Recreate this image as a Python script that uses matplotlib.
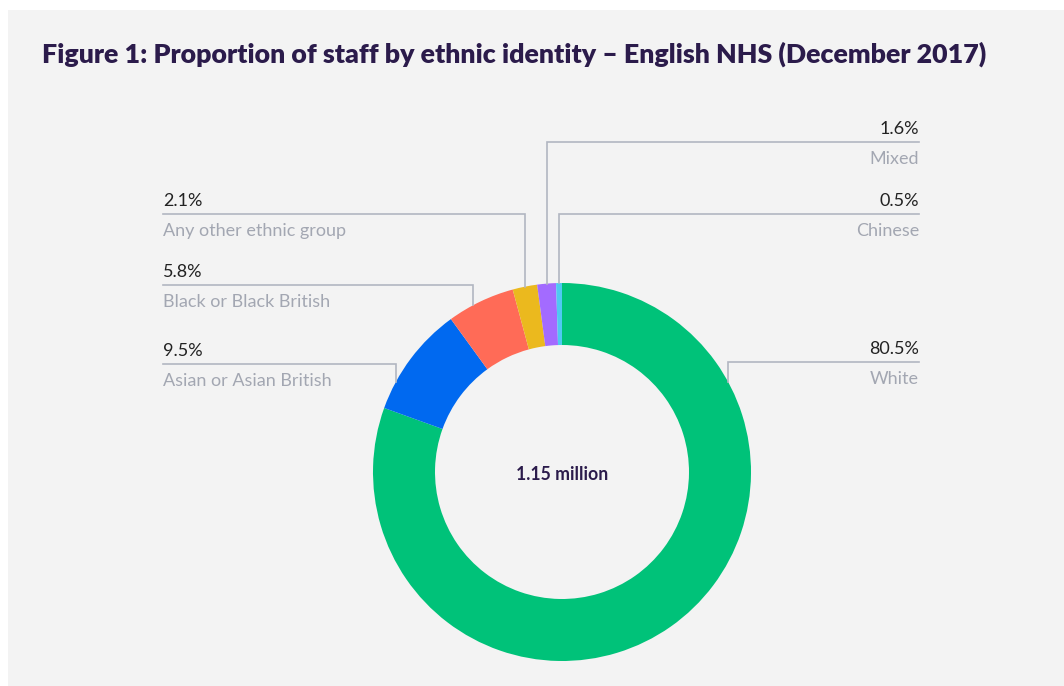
# Donut chart: NHS staff by ethnic identity
import matplotlib.pyplot as plt
from matplotlib.patches import Rectangle
import numpy as np


# data
categories = ["White", "Asian or Asian British", "Black or Black British",
              "Any other ethnic group", "Mixed", "Chinese"]
shares = [80.5, 9.5, 5.8, 2.1, 1.6, 0.5]
pct_labels = ["80.5%", "9.5%", "5.8%", "2.1%", "1.6%", "0.5%"]
total_label = "1.15 million"
title = "Figure 1: Proportion of staff by ethnic identity \u2013 English NHS (December 2017)"


# style
colors = ["#00c279", "#0069f0", "#ff6b57", "#ebb91e", "#a36bff", "#4fc9f2"]
label_side = ["right", "left", "left", "left", "right", "right"]
label_line_y = [362, 364, 285, 214, 142, 214]   # pixel rows of the leader lines
anchor_frac = [0.212, 0.255, 0.378, 0.5, 0.5, 0.5]  # where the leader hits each wedge
W, H = 1064, 686
cx, cy, R = 562, 472, 189
ring = 62
x_left, x_right = 163, 919
bg = "#f3f3f3"
line_col = "#b2b6c1"
name_col = "#a3a7b2"
title_col = "#2b1b4b"
plt.rcParams["font.family"] = ["Lato", "DejaVu Sans"]


fig = plt.figure(figsize=(W / 100, H / 100), dpi=100, facecolor="white")
ax = fig.add_axes([0, 0, 1, 1])
ax.axis("off")

# grey panel
ax.add_patch(Rectangle((8, 10), W - 8, H - 10, facecolor=bg, edgecolor="none", zorder=0))

# donut (y axis points down, so counterclock in data = clockwise on screen)
ax.pie(shares, colors=colors, startangle=-90, counterclock=True, center=(cx, cy),
       radius=R, wedgeprops=dict(width=ring, edgecolor="none", linewidth=0),
       frame=False)

ax.set_xlim(0, W)
ax.set_ylim(H, 0)
ax.set_aspect("equal")

# leader lines and labels
cum = np.concatenate([[0], np.cumsum(shares)]) / np.sum(shares)
for i in range(len(shares)):
    frac = cum[i] + anchor_frac[i] * (cum[i + 1] - cum[i])
    th = 2 * np.pi * frac
    ax_x = cx + R * np.sin(th)
    ax_y = cy - R * np.cos(th)
    ly = label_line_y[i]
    tx = x_left if label_side[i] == "left" else x_right
    ha = "left" if label_side[i] == "left" else "right"
    ax.plot([tx, ax_x, ax_x], [ly, ly, ax_y], color=line_col, lw=1.2,
            solid_joinstyle="miter", zorder=1)
    ax.text(tx, ly - 8, pct_labels[i], ha=ha, va="baseline", fontsize=13,
            color="#222222")
    ax.text(tx, ly + 9, categories[i], ha=ha, va="top", fontsize=13,
            color=name_col)

# centre text
ax.text(cx, cy + 3, total_label, ha="center", va="center", fontsize=12.7,
        fontweight="bold", color=title_col)

# title
ax.text(42, 63, title, ha="left", va="baseline", fontsize=19.3,
        fontweight=800, color=title_col)

fig.savefig("out.png", dpi=100, facecolor="white")
